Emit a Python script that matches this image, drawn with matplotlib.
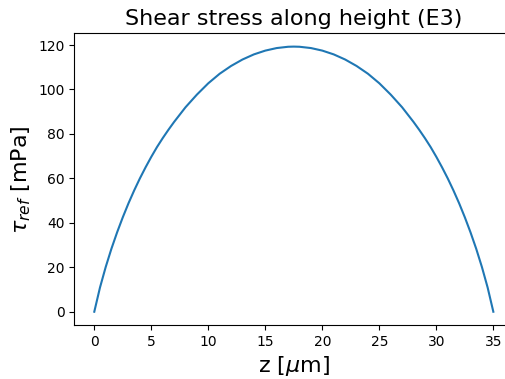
import matplotlib
matplotlib.use("Agg")
import matplotlib.pyplot as plt

z_um = [0.0, 0.5, 1.0, 1.5, 2.0, 2.5, 3.0, 3.5, 4.0, 4.5, 5.0, 5.5, 6.0, 6.5, 7.0, 8.0, 9.0, 10.0,
        11.0, 12.0, 13.0, 14.0, 15.0, 16.0, 17.0, 17.5, 18.0, 19.0, 20.0, 21.0, 22.0, 23.0,
        24.0, 25.0, 26.0, 27.0, 28.0, 28.5, 29.0, 29.5, 30.0, 30.5, 31.0, 31.5, 32.0, 32.5,
        33.0, 33.5, 34.0, 34.5, 35.0]
tau_mpa = [0.0, 10.9, 20.1, 28.3, 35.7, 42.5, 48.8, 54.6, 60.0, 65.0, 69.7, 74.1, 78.1, 81.85, 85.4,
           92.0, 97.7, 102.8, 107.1, 110.6, 113.5, 115.8, 117.5, 118.65, 119.23, 119.3, 119.23,
           118.65, 117.5, 115.8, 113.5, 110.6, 107.1, 102.8, 97.7, 92.0, 85.4, 81.85, 78.1, 74.1,
           69.7, 65.0, 60.0, 54.6, 48.8, 42.5, 35.7, 28.3, 20.1, 10.9, 0.0]

fig = plt.figure(figsize=(5.06, 3.79), dpi=100)
ax = fig.add_axes([0.1469, 0.1425, 0.8675, 0.7695])
ax.plot(z_um, tau_mpa, color="#1f77b4", linewidth=1.5)
ax.set_title("Shear stress along height (E3)", fontsize=16)
ax.set_xlabel(r"z [$\mu$m]", fontsize=16)
ax.set_ylabel(r"$\tau_{ref}$ [mPa]", fontsize=16)
ax.set_xticks([0, 5, 10, 15, 20, 25, 30, 35])
ax.set_yticks([0, 20, 40, 60, 80, 100, 120])
fig.savefig("out.png", dpi=100)
